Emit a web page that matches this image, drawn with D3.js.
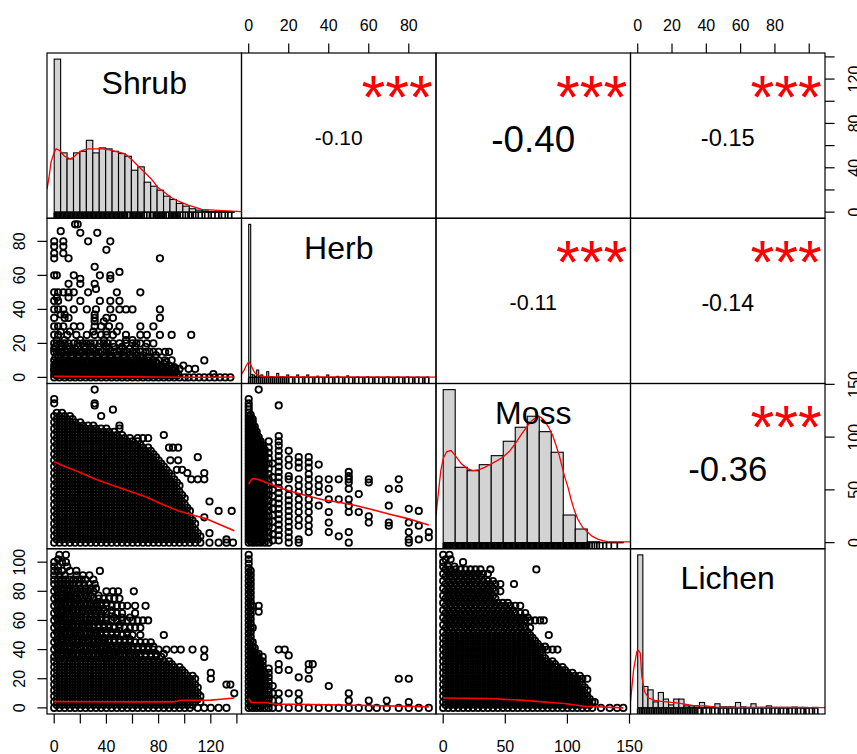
<!DOCTYPE html>
<html><head><meta charset="utf-8">
<script src="https://cdn.jsdelivr.net/npm/d3@7/dist/d3.min.js"></script>
<style>body{margin:0;background:#fff}svg{display:block}</style>
</head><body>
<svg id="chart" width="857" height="754"></svg>
<script>
// ---------------- data ----------------
const varNames = ["Shrub","Herb","Moss","Lichen"];
const varMin = [0,0,0,0];
const varMax = [138,90,145,105];

// correlations (upper panels)
const corrPairs = [[0,1],[0,2],[0,3],[1,2],[1,3],[2,3]];
const corrValues = [-0.10,-0.40,-0.15,-0.11,-0.14,-0.36];
const corrStars = ["***","***","***","***","***","***"];

// axis ticks
const shrubTicks = [0,20,40,60,80,100,120,140];
const shrubTickLabels = [0,40,80,120];
const herbTicks = [0,20,40,60,80];
const herbTickLabels = [0,20,40,60,80];
const mossTicks = [0,50,100,150];
const mossTickLabels = [0,50,100,150];
const lichenTicks = [0,20,40,60,80,100];
const lichenTopLabels = [0,20,40,60,80];
const lichenLeftLabels = [0,20,40,60,80,100];

// histograms (bar heights, relative density) and bin widths
const shrubBinWidth = 5;
const shrubHist = [153.4,59.4,53.4,59.4,61,72,59.4,64.4,63.4,61,58.7,56,42,45.4,30,26,22,16,12.7,8.7,6,3.4,2,1.2,0.6,0.5,0.4,0.3];
const herbBinWidth = 1;
const herbHist = [154,3,2.4,1,7.4,0.6,2.4,1,0.6,5.7,0.3,0.5,0.3,0,4,0.3,0.4,0.3,0,2.4,0,0.3,0,0,2.4,0,0,0.3,0,2.4,0,0,0,0,1.2,0,0,0,0,2.4,0,0,0,0,1,0,0,0,0,1.5,0,0,0,0,0.5,0,0,0,0,0.6,0,0,0,0,0.3,0,0,0,0,0.5,0,0,0,0,0.4,0,0,0,0,0.5,0,0,0,0,0.3,0,0,0,0,0.4];
const mossBinWidth = 10;
const mossHist = [152.9,75.3,71.9,77.9,86.9,101.3,115.3,126.3,110.9,90.3,27.6,13.6,0.9,0.4,0.3];
const lichenBinWidth = 3;
const lichenHist = [153,21.4,18,6,15.4,8.8,3,8.8,8.8,2,2,2.1,5.4,1,1,4.1,1,1,1,5.4,1,0.5,4.1,0.5,0.5,2,0.5,0.5,0.5,0.5,0.8,0.5,0.5,0.3,0.5];

// rug values (distinct observed values)
const shrubRug = [0,1,2,3,4,5,6,7,8,9,10,11,12,13,14,15,16,17,18,19,20,21,22,23,24,25,26,27,28,29,30,31,32,33,34,35,36,37,38,39,40,41,42,43,44,45,46,47,48,49,50,51,52,53,54,55,56,57,59,60,61,62,63,64,65,66,67,68,69,70,72,74,75,77,78,79,80,81,82,83,84,85,86,87,89,90,91,92,93,94,95,96,97,98,100,102,104,105,107,108,110,112,115,117,120,122,125,128,130,133,135,138];
const herbRug = [0,1,2,3,4,5,6,7,8,9,10,11,12,13,14,15,16,17,18,19,20,22,23,25,27,28,30,32,33,35,37,38,40,42,43,45,47,48,50,52,53,55,57,58,60,62,63,65,67,68,70,72,73,75,77,78,80,82,83,85,87,88,90];
const mossRug = [0,1,2,3,4,5,6,7,8,9,10,11,12,13,14,15,16,17,18,19,20,21,22,23,24,25,26,27,28,29,30,31,32,33,34,35,36,37,38,39,40,41,42,43,44,45,46,47,48,49,50,51,52,53,54,55,56,57,58,59,60,61,62,63,64,65,66,67,68,69,70,71,72,73,74,75,76,77,78,79,80,81,82,83,84,85,86,87,88,89,90,91,92,93,94,95,96,97,98,99,100,101,102,103,104,105,106,107,108,109,110,111,112,113,114,115,116,117,118,119,120,121,122,124,126,128,130,133,136,140,145];
const lichenRug = [0,1,2,3,4,5,6,7,8,9,10,11,12,13,14,15,16,17,18,19,20,21,22,23,24,25,26,27,28,29,30,31,32,33,34,35,37,38,40,42,43,45,47,48,50,52,53,55,57,58,60,62,63,65,67,68,70,72,73,75,77,78,80,82,83,85,87,88,90,92,93,95,97,98,100,102,103,105];

// kernel density curves [value, density]
const shrubDensity = [[-5.6,23],[-4,35],[-2.5,50],[0,60],[1.5,63.4],[4,62],[8,56],[12.3,53.4],[15,55],[18.7,59.4],[22,62],[26.5,63.4],[32,63.5],[37.5,63.4],[43,62.5],[47.3,61],[51,60],[55,58.4],[60.2,52.7],[65.4,46],[70.6,39.4],[75.8,32.7],[80.9,24.4],[86.1,19.4],[91.3,14.4],[96.5,11],[104.2,7],[114.7,2.7],[127.6,1.7],[145.8,0.5]];
const herbDensity = [[-3.6,3.4],[-2.5,6.5],[-1.2,12],[0,15.7],[1,13],[2,8.5],[2.9,5],[4.5,2.3],[6.3,1],[9,0.6],[20,0.4],[93.6,0.3]];
const mossDensity = [[-6,27],[-4,50],[-2,72],[0,84],[3,91],[6.5,92],[10,87],[15,79],[20,74],[24.6,72],[30,73],[35,75.5],[39.8,78.6],[45,82],[49.6,85.3],[55,91],[60.6,100],[65,108],[70.4,117],[74,122],[78.7,126.3],[81,125.5],[84.2,122],[88,115],[91.2,107],[94,97],[96.7,87],[99,76],[100.9,67],[104,55],[106.4,43.6],[109,33],[112,23.6],[116,15.5],[120.4,10.3],[124,6.5],[128.7,3.6],[133,2],[137,1],[145,0.8],[156,0.8]];
const lichenDensity = [[-4.2,6.4],[-2.4,38],[-0.5,56.4],[0.5,57.4],[1.5,54.7],[2.4,31.4],[4,16.4],[6.3,9.8],[10,7.5],[14,6.4],[23.8,4.8],[33.5,2.1],[40,2],[45.2,0.8],[60,0.6],[80,0.5],[109.2,0.3]];

// lowess smooth lines [x, y]
const smoothShrubHerb = [[0,0.6],[20,0.5],[40,0.4],[60,0.3],[80,0.2],[100,0.1],[120,0.1],[138,0.2]];
const smoothShrubMoss = [[0,76.7],[8.3,72.2],[18.5,67.2],[31.3,60.2],[44,54.6],[56.8,49.2],[69.6,43.8],[82.3,36.6],[95,30.3],[107.9,25.5],[115.6,23],[138,11.3]];
const smoothShrubLichen = [[0,4.3],[30,4.2],[60,4.1],[91.6,4.1],[96.8,5.2],[120,5.3],[127.7,5.9],[138,6.8]];
const smoothHerbMoss = [[0,55.5],[1,59],[2,60.9],[5,59.7],[12,54.7],[20,49.2],[29,44.5],[37,40.7],[45,38.2],[54,35],[62,31.2],[70,27.1],[79,23],[90,16.7]];
const smoothHerbLichen = [[0,6.4],[1.2,3.7],[8.7,3.7],[13.7,2.5],[22,2.5],[55,1.8],[90,0.7]];
const smoothMossLichen = [[0,6.8],[36,6.4],[62.6,5.3],[80,4.1],[97.5,3],[113.6,1.1],[145,0]];

// scatter points. Row form: [yValue, [xValues]]; column form: [xValue, [yValues]]
const ptsShrubHerb = [ // [Herb, [Shrub...]]
[90,[16,18]],[86,[5]],[85,[20,33]],[80,[0,7,26,43]],[77,[0,7]],[75,[40]],[73,[0,7]],[70,[0,11,81]],[65,[31]],[62,[50]],
[60,[0,2,15,35,43]],[58,[20,43]],[55,[11,20,31]],[52,[32]],[50,[0,3,7,11,15,26,48,66]],[47,[2,11]],[45,[0,3,20,35,43,50]],
[40,[0,3,7,15,25,32,43,50,55,60,81]],[37,[5,8,31]],[35,[0,8,11,31,40,45,81]],[33,[31,38]],[30,[0,3,7,15,20,31,36,42,50,66,76]],
[27,[5,12,30,40,48]],[25,[0,3,10,17,25,31,36,40,45,55,66,71,81,90,105]],[22,[2,8,20,38,55,60]],
[20,[0,2,5,8,11,15,18,22,25,28,31,35,38,41,45,50,55,60,63,66,71,76]],
[18,[1,6,12,18,23,28,34,40,46,52,62,70]],
[17,[0,4,10,16,24,30,42,50,58]],
[15,[0,2,5,8,10,13,16,19,22,25,28,31,34,37,40,43,46,50,53,56,60,63,66,70,73,76,80,85,88]],
[13,[3,8,13,18,23,28,33,38,43,48,53,58,63,68,78]],
[12,[1,5,9,14,19,24,29,34,39,44,49,54,60,66,72]],
[10,[0,3,6,9,12,15,18,21,24,27,30,33,36,39,42,45,48,51,54,57,60,63,66,69,72,76,80,85,90,115]],
[9,[2,6,10,14,18,22,26,30,34,38,42,46,50,54,58,62,66,70,74,78,86]],
[8,[1,5,9,13,17,21,25,29,33,37,41,45,49,53,57,61,65,69,74,79,84]],
[7,[0,4,8,12,16,20,24,28,32,36,40,44,48,52,56,60,64,68,72,76,82,88,99]],
[6,[2,6,10,14,18,22,26,30,34,38,42,46,50,54,58,62,66,70,74,78,82,86,92]],
[5,[0,3,6,9,12,15,18,21,24,27,30,33,36,39,42,45,48,51,54,57,60,63,66,69,72,75,78,81,84,87,90,93,96,103,108]],
[4,[0,4,8,12,16,20,24,28,32,36,40,44,48,52,56,60,64,68,72,76,80,84,88,92]],
[3,[1,5,9,13,17,21,25,29,33,37,41,45,49,53,57,61,65,69,73,77,81,85,89,93]],
[2,[0,3,7,11,15,19,23,27,31,35,39,43,47,51,55,59,63,67,71,75,79,83,87,91,95,122]],
[1,[2,6,10,14,18,22,26,30,34,38,42,46,50,54,58,62,66,70,74,78,82,86,90,94]],
[0,[0,4,8,12,16,20,24,28,32,36,40,44,48,52,56,60,64,68,72,76,80,84,88,92,96,100,103,107,111,115,119,123,127,131,135]]
];
const ptsShrubMoss = [ // [Moss, [Shrub...]]
[145,[31]],[136,[0]],[132,[0,31]],[130,[31]],[126,[45]],
[123,[2,6]],[120,[0,4,8,12,36]],[117,[2,6,10,14]],[114,[0,4,8,12,16,20]],
[111,[2,6,10,14,18,22,26,30,50]],
[108,[0,4,8,12,16,20,24,28,32,36,40,50]],
[105,[2,6,10,14,18,22,26,30,34,38,42,46]],
[102,[0,4,8,12,16,20,24,28,32,36,40,44,48,52,84]],
[99,[2,6,10,14,18,22,26,30,34,38,42,46,50,54,58,64,68,72]],
[96,[0,4,8,12,16,20,24,28,32,36,40,44,48,52,56,60,64]],
[93,[2,6,10,14,18,22,26,30,34,38,42,46,50,54,58,62,66]],
[90,[0,4,8,12,16,20,24,28,32,36,40,44,48,52,56,60,64,68,72,88,91,95]],
[87,[2,6,10,14,18,22,26,30,34,38,42,46,50,54,58,62,66,70,74]],
[84,[0,4,8,12,16,20,24,28,32,36,40,44,48,52,56,60,64,68,72,76]],
[81,[2,6,10,14,18,22,26,30,34,38,42,46,50,54,58,62,66,70,74,78,110]],
[78,[0,4,8,12,16,20,24,28,32,36,40,44,48,52,56,60,64,68,72,76,80,89,95]],
[75,[2,6,10,14,18,22,26,30,34,38,42,46,50,54,58,62,66,70,74,78,82]],
[72,[0,4,8,12,16,20,24,28,32,36,40,44,48,52,56,60,64,68,72,76,80,84]],
[69,[2,6,10,14,18,22,26,30,34,38,42,46,50,54,58,62,66,70,74,78,82,86,94,98]],
[66,[0,4,8,12,16,20,24,28,32,36,40,44,48,52,56,60,64,68,72,76,80,84,88,102,115]],
[63,[2,6,10,14,18,22,26,30,34,38,42,46,50,54,58,62,66,70,74,78,82,86,90]],
[60,[0,4,8,12,16,20,24,28,32,36,40,44,48,52,56,60,64,68,72,76,80,84,88,92,105,110,115]],
[57,[2,6,10,14,18,22,26,30,34,38,42,46,50,54,58,62,66,70,74,78,82,86,90,94]],
[54,[0,4,8,12,16,20,24,28,32,36,40,44,48,52,56,60,64,68,72,76,80,84,88,92,96]],
[51,[2,6,10,14,18,22,26,30,34,38,42,46,50,54,58,62,66,70,74,78,82,86,90,94]],
[48,[0,4,8,12,16,20,24,28,32,36,40,44,48,52,56,60,64,68,72,76,80,84,88,92,96]],
[45,[2,6,10,14,18,22,26,30,34,38,42,46,50,54,58,62,66,70,74,78,82,86,90,94,98]],
[42,[0,4,8,12,16,20,24,28,32,36,40,44,48,52,56,60,64,68,72,76,80,84,88,92,96,100]],
[39,[2,6,10,14,18,22,26,30,34,38,42,46,50,54,58,62,66,70,74,78,82,86,90,94,98,119]],
[36,[0,4,8,12,16,20,24,28,32,36,40,44,48,52,56,60,64,68,72,76,80,84,88,92,96,100]],
[33,[2,6,10,14,18,22,26,30,34,38,42,46,50,54,58,62,66,70,74,78,82,86,90,94,98,102]],
[30,[0,4,8,12,16,20,24,28,32,36,40,44,48,52,56,60,64,68,72,76,80,84,88,92,96,100,104,126,136]],
[27,[2,6,10,14,18,22,26,30,34,38,42,46,50,54,58,62,66,70,74,78,82,86,90,94,98,102]],
[24,[0,4,8,12,16,20,24,28,32,36,40,44,48,52,56,60,64,68,72,76,80,84,88,92,96,100,104,115]],
[21,[2,6,10,14,18,22,26,30,34,38,42,46,50,54,58,62,66,70,74,78,82,86,90,94,98,102,106]],
[18,[0,4,8,12,16,20,24,28,32,36,40,44,48,52,56,60,64,68,72,76,80,84,88,92,96,100,104,108]],
[15,[2,6,10,14,18,22,26,30,34,38,42,46,50,54,58,62,66,70,74,78,82,86,90,94,98,102,106]],
[12,[0,4,8,12,16,20,24,28,32,36,40,44,48,52,56,60,64,68,72,76,80,84,88,92,96,100,104,108]],
[9,[2,6,10,14,18,22,26,30,34,38,42,46,50,54,58,62,66,70,74,78,82,86,90,94,98,102,106,110,119]],
[6,[0,4,8,12,16,20,24,28,32,36,40,44,48,52,56,60,64,68,72,76,80,84,88,92,96,100,104,108,112]],
[3,[2,6,10,14,18,22,26,30,34,38,42,46,50,54,58,62,66,70,74,78,82,86,90,94,98,102,106,110,132]],
[0,[0,4,8,12,16,20,24,28,32,36,40,44,48,52,56,60,64,68,72,76,80,84,88,92,96,100,104,108,112,119,126,132,137]]
];
const ptsShrubLichen = [ // [Lichen, [Shrub...]]
[105,[4,9]],[102,[3]],[100,[0,6,9]],[97,[0,3,10]],[94,[0,3,6,12,17,35]],[91,[0,4,8,17,22,27]],
[88,[0,3,6,9,12,15,18,21,24,30]],[85,[0,3,6,9,12,15,19,23,27,31]],[82,[2,5,8,12,16,20,24,28,32]],
[80,[0,3,6,10,14,18,22,26,30,40,45,49,61]],[77,[2,6,9,12,16,20,24,28,34]],[75,[0,3,6,9,12,15,18,22,26,30,34,38,42,46,50]],
[72,[2,5,8,12,16,20,24,28,32,36,40]],[70,[0,3,6,9,12,15,18,21,24,27,30,33,36,40,44,48,52,56,62,70]],
[67,[2,6,10,14,18,22,26,30,34,38,44]],[65,[0,3,6,9,12,15,18,21,24,28,32,36,40,44,48,52,62]],
[62,[2,5,8,12,16,20,24,28,32,36,40,46,52,58]],[60,[0,3,6,9,12,15,18,21,24,27,30,33,36,40,44,48,52,56,60,64,68,72]],
[57,[2,6,10,14,18,22,26,30,34,38,42,50]],[55,[0,3,6,9,12,15,18,21,24,27,30,34,38,42,46,50,54,58,62,66]],
[52,[2,5,8,12,16,20,24,28,32,36,40,44,48,56]],[50,[0,3,6,9,12,15,18,21,24,27,30,33,36,40,44,48,52,56,60,66,84]],
[47,[2,6,10,14,18,22,26,30,34,38,42,46,50,54,58]],[45,[0,3,6,9,12,15,18,21,24,27,30,33,36,39,42,46,50,54,58,62,66,70,74]],
[42,[2,5,8,12,16,20,24,28,32,36,40,44,48,52,56,60,64,68,72,76]],
[40,[0,3,6,9,12,15,18,21,24,27,30,33,36,39,42,45,48,51,54,57,60,64,68,72,76,80,86,92,97,106,115]],
[37,[2,6,10,14,18,22,26,30,34,38,42,46,50,54,58,62,66,70,74,78,84]],
[35,[0,3,6,9,12,15,18,21,24,27,30,33,36,39,42,45,48,51,54,57,60,63,66,70,74,78,82,115]],
[32,[0,4,8,12,16,20,24,28,32,36,40,44,48,52,56,60,64,68,72,76,80,84,88]],
[30,[2,6,10,14,18,22,26,30,34,38,42,46,50,54,58,62,66,70,74,78,82,86,90]],
[28,[0,4,8,12,16,20,24,28,32,36,40,44,48,52,56,60,64,68,72,76,80,84,88,92,96]],
[26,[2,6,10,14,18,22,26,30,34,38,42,46,50,54,58,62,66,70,74,78,82,86,90,94,98]],
[24,[0,4,8,12,16,20,24,28,32,36,40,44,48,52,56,60,64,68,72,76,80,84,88,92,96,100,120]],
[22,[2,6,10,14,18,22,26,30,34,38,42,46,50,54,58,62,66,70,74,78,82,86,90,94,98,102,106]],
[20,[0,4,8,12,16,20,24,28,32,36,40,44,48,52,56,60,64,68,72,76,80,84,88,92,96,100,104,108,120]],
[18,[2,6,10,14,18,22,26,30,34,38,42,46,50,54,58,62,66,70,74,78,82,86,90,94,98,102,106]],
[16,[0,4,8,12,16,20,24,28,32,36,40,44,48,52,56,60,64,68,72,76,80,84,88,92,96,100,104,108,132,135]],
[14,[2,6,10,14,18,22,26,30,34,38,42,46,50,54,58,62,66,70,74,78,82,86,90,94,98,102,106,110]],
[12,[0,4,8,12,16,20,24,28,32,36,40,44,48,52,56,60,64,68,72,76,80,84,88,92,96,100,104,108]],
[10,[2,6,10,14,18,22,26,30,34,38,42,46,50,54,58,62,66,70,74,78,82,86,90,94,98,102,106,110,138]],
[8,[0,4,8,12,16,20,24,28,32,36,40,44,48,52,56,60,64,68,72,76,80,84,88,92,96,100,104,108,112]],
[6,[2,6,10,14,18,22,26,30,34,38,42,46,50,54,58,62,66,70,74,78,82,86,90,94,98,102,106,110]],
[4,[0,4,8,12,16,20,24,28,32,36,40,44,48,52,56,60,64,68,72,76,80,84,88,92,96,100,104,108,112]],
[2,[2,6,10,14,18,22,26,30,34,38,42,46,50,54,58,62,66,70,74,78,82,86,90,94,98,102,106]],
[0,[0,4,8,12,16,20,24,28,32,36,40,44,48,52,56,60,64,68,72,76,80,84,88,92,96,100,104,110,115,120,126,132]]
];
const ptsHerbMoss = [ // [Herb, [Moss...]]
[0,[0,3,6,9,12,15,18,21,24,27,30,33,36,39,42,45,48,51,54,57,60,63,66,69,72,75,78,81,84,87,90,93,96,99,102,105,108,111,114,117,120,123,126,129,132,136]],
[1,[1,4,7,10,13,16,19,22,25,28,31,34,37,40,43,46,49,52,55,58,61,64,67,70,73,76,79,82,85,88,91,94,97,100,103,106,109,112,115,118,121]],
[2,[0,3,6,9,12,15,18,21,24,27,30,33,36,39,42,45,48,51,54,57,60,63,66,69,72,75,78,81,84,87,90,93,96,99,102,105,108,111,114,117]],
[3,[2,5,8,11,14,17,20,23,26,29,32,35,38,41,44,47,50,53,56,59,62,65,68,71,74,77,80,83,86,89,92,95,98,101,104,107,110]],
[4,[0,3,6,9,12,15,18,21,24,27,30,33,36,39,42,45,48,51,54,57,60,63,66,69,72,75,78,81,84,87,90,93,96,99,102,105]],
[5,[1,4,7,10,13,16,19,22,25,28,31,34,37,40,43,46,49,52,55,58,61,64,67,70,73,76,79,82,85,88,91,94,97,100,145]],
[6,[0,3,6,9,12,15,18,21,24,27,30,33,36,39,42,45,48,51,54,57,60,63,66,69,72,75,78,81,84,87,90,93,96]],
[7,[2,5,8,11,14,17,20,23,26,29,32,35,38,41,44,47,50,53,56,59,62,65,68,71,74,77,80,83,86,89,92]],
[8,[0,4,8,12,16,20,24,28,32,36,40,44,48,52,56,60,64,68,72,76,80,84,88]],
[10,[0,5,10,15,20,25,30,35,40,45,50,55,60,65,70,75,80,85,90,96]],
[12,[2,8,14,20,26,32,38,44,50,56,62,75]],
[15,[2,7,12,17,22,27,32,37,42,47,52,57,62,67,72,77,82,87,92,96,101,130]],
[20,[0,5,10,15,20,25,30,35,40,45,51,60,63,73,79,87]],
[25,[0,3,16,22,29,35,41,48,54,60,71,76,81]],
[30,[10,16,22,29,35,41,48,54,60,65,71,76,81]],
[35,[35,48,54,60,74]],[40,[10,19,29,41,51,60]],[45,[6,41,60]],[50,[0,10,29,35,41,51,57,60,63,67]],
[55,[29,46]],[60,[19,25,57,60]],[70,[16,19,35,51]],[75,[51,60]],[80,[0,3,10,19,32]],[85,[3,16,30]],[90,[5,10]]
];
const ptsHerbLichen = [ // [Herb, [Lichen...]]
[0,[0,3,6,9,12,15,18,21,24,27,30,33,36,39,42,45,48,51,54,57,60,63,66,69,72,75,78,81,84,87,90,93,96,99,102,105]],
[1,[1,4,7,10,13,16,19,22,25,28,31,34,37,40,43,46,49,52,55,58,61,64,67,70,73,76,79,82,85,88,91,94]],
[2,[0,3,6,9,12,15,18,21,24,27,30,33,36,39,42,45,55,70]],
[3,[2,5,8,11,14,17,20,23,26,29,32,35,38,41]],
[4,[0,3,6,9,12,15,18,21,24,27,30,33,36]],
[5,[1,4,7,10,13,16,19,22,25,28,31,34,37,66,70]],
[6,[0,3,6,9,12,15,18,21,24,27,30]],
[7,[2,5,8,11,14,17,20,23,26,29,32,35]],
[8,[0,3,6,9,12,15,18,21,24]],
[10,[0,3,6,9,12,15,18,21,24,27]],
[12,[0,5,10,15]],[15,[0,5,10,26,30,40]],[18,[40]],[20,[0,10,26,36]],[25,[0,5,10,21]],[30,[0,20,26,30]],[32,[30]],
[35,[0]],[40,[0,15]],[45,[0]],[50,[0,5,10]],[55,[0]],[60,[0,5]],[64,[0]],[69,[0,5]],[75,[0,20]],[80,[0,4,20]],[85,[0]],[90,[0]]
];
const ptsMossLichen = [ // [Lichen, [Moss...]]
[105,[0,5]],[102,[2,6]],[100,[0,16]],[97,[0,4,9]],
[95,[2,6,10,14,18,22,26,30,38,75]],
[92,[0,4,8,12,16,20,24,28,32,36]],
[90,[2,6,10,14,18,22,26,30]],
[87,[0,4,8,12,16,20,24,28,32,36,40]],
[85,[2,6,10,14,18,22,26,30,34,38,42,46,57]],
[82,[0,4,8,12,16,20,24,28,32,36,40]],
[80,[2,6,10,14,18,22,26,30,34,38,42,46]],
[77,[0,4,8,12,16,20,24,28,32,36,40]],
[75,[2,6,10,14,18,22,26,30,34,38,42]],
[72,[0,4,8,12,16,20,24,28,32,36,40,44,48,52]],
[70,[2,6,10,14,18,22,26,30,34,38,42,46,50,54,58,62]],
[67,[0,4,8,12,16,20,24,28,32,36,40,44,48,52,56]],
[65,[2,6,10,14,18,22,26,30,34,38,42,46,50,54,58,62,66]],
[62,[0,4,8,12,16,20,24,28,32,36,40,44,48,52,56,60,64,68]],
[60,[2,6,10,14,18,22,26,30,34,38,42,46,50,54,58,62,66,70,74,78,81]],
[57,[0,4,8,12,16,20,24,28,32,36,40,44,48,52,56,60,64]],
[55,[2,6,10,14,18,22,26,30,34,38,42,46,50,54,58,62,66,70]],
[52,[0,4,8,12,16,20,24,28,32,36,40,44,48,52,56,60,64,68]],
[50,[2,6,10,14,18,22,26,30,34,38,42,46,50,54,58,62,66,70,85]],
[48,[0,4,8,12,16,20,24,28,32,36,40,44,48,52,56,60,64,68,72]],
[46,[2,6,10,14,18,22,26,30,34,38,42,46,50,54,58,62,66,70,74]],
[44,[0,4,8,12,16,20,24,28,32,36,40,44,48,52,56,60,64,68,72,76]],
[42,[2,6,10,14,18,22,26,30,34,38,42,46,50,54,58,62,66,70,74,78,82]],
[40,[0,4,8,12,16,20,24,28,32,36,40,44,48,52,56,60,64,68,72,76,80,84,88,92]],
[38,[2,6,10,14,18,22,26,30,34,38,42,46,50,54,58,62,66,70,74,78]],
[36,[0,4,8,12,16,20,24,28,32,36,40,44,48,52,56,60,64,68,72,76,80]],
[34,[2,6,10,14,18,22,26,30,34,38,42,46,50,54,58,62,66,70,74,78,82]],
[32,[0,4,8,12,16,20,24,28,32,36,40,44,48,52,56,60,64,68,72,76,80,84,88]],
[30,[2,6,10,14,18,22,26,30,34,38,42,46,50,54,58,62,66,70,74,78,82,86,90]],
[28,[0,4,8,12,16,20,24,28,32,36,40,44,48,52,56,60,64,68,72,76,80,84,88,92,96]],
[26,[2,6,10,14,18,22,26,30,34,38,42,46,50,54,58,62,66,70,74,78,82,86,90,94,98]],
[24,[0,4,8,12,16,20,24,28,32,36,40,44,48,52,56,60,64,68,72,76,80,84,88,92,96,100,104]],
[22,[2,6,10,14,18,22,26,30,34,38,42,46,50,54,58,62,66,70,74,78,82,86,90,94,98,102,106,110]],
[20,[0,4,8,12,16,20,24,28,32,36,40,44,48,52,56,60,64,68,72,76,80,84,88,92,96,100,104,108,112,116]],
[18,[2,6,10,14,18,22,26,30,34,38,42,46,50,54,58,62,66,70,74,78,82,86,90,94,98,102,106,110]],
[16,[0,4,8,12,16,20,24,28,32,36,40,44,48,52,56,60,64,68,72,76,80,84,88,92,96,100,104,108,112]],
[14,[2,6,10,14,18,22,26,30,34,38,42,46,50,54,58,62,66,70,74,78,82,86,90,94,98,102,106,110,114]],
[12,[0,4,8,12,16,20,24,28,32,36,40,44,48,52,56,60,64,68,72,76,80,84,88,92,96,100,104,108,112,116]],
[10,[2,6,10,14,18,22,26,30,34,38,42,46,50,54,58,62,66,70,74,78,82,86,90,94,98,102,106,110,114]],
[8,[0,4,8,12,16,20,24,28,32,36,40,44,48,52,56,60,64,68,72,76,80,84,88,92,96,100,104,108,112,116]],
[6,[2,6,10,14,18,22,26,30,34,38,42,46,50,54,58,62,66,70,74,78,82,86,90,94,98,102,106,110,114,118]],
[4,[0,4,8,12,16,20,24,28,32,36,40,44,48,52,56,60,64,68,72,76,80,84,88,92,96,100,104,108,112,116,120,122]],
[2,[2,6,10,14,18,22,26,30,34,38,42,46,50,54,58,62,66,70,74,78,82,86,90,94,98,102,106,110,114,118]],
[0,[0,4,8,12,16,20,24,28,32,36,40,44,48,52,56,60,64,68,72,76,80,84,88,92,96,100,104,108,112,116,120,127,134,140,145]]
];

// ---------------- layout / drawing ----------------
const FONT = "'Liberation Sans', Arial, Helvetica, sans-serif";
const L0 = 47, R0 = 825, T0 = 53, B0 = 714, N = 4;
const PW = (R0 - L0) / N, PH = (B0 - T0) / N;
const svg = d3.select("#chart");
svg.append("rect").attr("width",857).attr("height",754).attr("fill","#fff");

const colL = j => L0 + j*PW, colR = j => L0 + (j+1)*PW;
const rowT = i => T0 + i*PH, rowB = i => T0 + (i+1)*PH;

function ext(lo, hi){ const r = hi - lo; return [lo - 0.04*r, hi + 0.04*r]; }
const xScales = varNames.map((v,k) => d3.scaleLinear().domain(ext(varMin[k], varMax[k])).range([colL(k), colR(k)]));
const yScales = varNames.map((v,k) => d3.scaleLinear().domain(ext(varMin[k], varMax[k])).range([rowB(k), rowT(k)]));

const defs = svg.append("defs");
for (let i=0;i<N;i++) for (let j=0;j<N;j++){
  defs.append("clipPath").attr("id",`clip${i}${j}`).append("rect")
    .attr("x",colL(j)).attr("y",rowT(i)).attr("width",PW).attr("height",PH);
}

function flatten(arr, rowForm){
  const out = [];
  arr.forEach(([k, vals]) => vals.forEach(v => out.push(rowForm ? [v, k] : [k, v])));
  return out;
}
const lowerPanels = [
  {xv:0, yv:1, pts: flatten(ptsShrubHerb, true),   line: smoothShrubHerb},
  {xv:0, yv:2, pts: flatten(ptsShrubMoss, true),   line: smoothShrubMoss},
  {xv:0, yv:3, pts: flatten(ptsShrubLichen, true), line: smoothShrubLichen},
  {xv:1, yv:2, pts: flatten(ptsHerbMoss, false),   line: smoothHerbMoss},
  {xv:1, yv:3, pts: flatten(ptsHerbLichen, false), line: smoothHerbLichen},
  {xv:2, yv:3, pts: flatten(ptsMossLichen, true),  line: smoothMossLichen}
];

// lower panels: points + smooth
lowerPanels.forEach(p => {
  const xs = xScales[p.xv], ys = yScales[p.yv];
  const g = svg.append("g").attr("clip-path",`url(#clip${p.yv}${p.xv})`);
  g.selectAll("circle").data(p.pts).join("circle")
    .attr("cx", d => xs(d[0])).attr("cy", d => ys(d[1])).attr("r", 3.2)
    .attr("fill","none").attr("stroke","#000").attr("stroke-width",1.8);
  g.append("path").datum(p.line)
    .attr("d", d3.line().x(d => xs(d[0])).y(d => ys(d[1])))
    .attr("fill","none").attr("stroke","#ff0000").attr("stroke-width",1.6);
});

// upper panels: correlation text and significance stars
const baseCex = 0.8 * PW / 2.279;
const starSize = 61;
corrPairs.forEach(([i,j], k) => {
  const r = corrValues[k];
  const fs = baseCex * (Math.abs(r) + 0.3) / 1.3;
  const cx = colL(j) + PW/2, cy = rowT(i) + PH/2;
  svg.append("text").attr("x",cx).attr("y",cy + 0.433*fs)
    .attr("text-anchor","middle").attr("font-family",FONT).attr("font-size",fs)
    .attr("fill","#000").text(r.toFixed(2));
  svg.append("text").attr("x",colL(j) + 0.8*PW).attr("y",rowT(i) + 64.5)
    .attr("text-anchor","middle").attr("font-family",FONT).attr("font-size",starSize)
    .attr("fill","#ff0000").text(corrStars[k]);
});

// diagonal panels
const hists = [
  {bins: shrubHist, w: shrubBinWidth, dens: shrubDensity, rug: shrubRug},
  {bins: herbHist, w: herbBinWidth, dens: herbDensity, rug: herbRug},
  {bins: mossHist, w: mossBinWidth, dens: mossDensity, rug: mossRug},
  {bins: lichenHist, w: lichenBinWidth, dens: lichenDensity, rug: lichenRug}
];
hists.forEach((h, k) => {
  const b0 = 0, b1 = h.bins.length * h.w;
  const hx = d3.scaleLinear().domain(ext(b0, b1)).range([colL(k), colR(k)]);
  const M = d3.max(h.bins);
  const hy = d3.scaleLinear().domain(ext(0, M)).range([rowB(k), rowT(k)]);
  const g = svg.append("g").attr("clip-path",`url(#clip${k}${k})`);
  g.selectAll("rect.bar").data(h.bins.map((v,i)=>({v, i})).filter(d => d.v > 0)).join("rect")
    .attr("class","bar")
    .attr("x", d => hx(b0 + d.i*h.w)).attr("width", d => hx(b0 + (d.i+1)*h.w) - hx(b0 + d.i*h.w))
    .attr("y", d => hy(d.v)).attr("height", d => hy(0) - hy(d.v))
    .attr("fill","#d3d3d3").attr("stroke","#000").attr("stroke-width",1.1);
  g.append("line").attr("x1",hx(b0)).attr("x2",hx(b1)).attr("y1",hy(0)).attr("y2",hy(0))
    .attr("stroke","#000").attr("stroke-width",1.1);
  g.append("path").datum(h.dens)
    .attr("d", d3.line().x(d => hx(d[0])).y(d => hy(d[1])))
    .attr("fill","none").attr("stroke","#ff0000").attr("stroke-width",1.3);
  g.selectAll("line.rug").data(h.rug).join("line").attr("class","rug")
    .attr("x1", d => hx(d)).attr("x2", d => hx(d))
    .attr("y1", rowB(k)).attr("y2", rowB(k) - 0.03*PH - 0.8)
    .attr("stroke","#000").attr("stroke-width",1.7);
  svg.append("text").attr("x", colL(k) + PW/2).attr("y", rowT(k) + 40.5)
    .attr("text-anchor","middle").attr("font-family",FONT).attr("font-size",32)
    .attr("fill","#000").text(varNames[k]);
});

// panel boxes
for (let i=0;i<N;i++) for (let j=0;j<N;j++){
  svg.append("rect").attr("x",colL(j)).attr("y",rowT(i)).attr("width",PW).attr("height",PH)
    .attr("fill","none").attr("stroke","#000").attr("stroke-width",1.2);
}

// axes
const TICK = 9.6, TFS = 16;
function topAxis(k, ticks, labels){
  const s = xScales[k];
  const g = svg.append("g");
  g.selectAll("line.t").data(ticks).join("line").attr("class","t")
    .attr("x1",d=>s(d)).attr("x2",d=>s(d)).attr("y1",T0).attr("y2",T0-TICK).attr("stroke","#000").attr("stroke-width",1.2);
  g.selectAll("text").data(labels).join("text").attr("x",d=>s(d)).attr("y",30.7)
    .attr("text-anchor","middle").attr("font-family",FONT).attr("font-size",TFS).text(d=>d);
}
function bottomAxis(k, ticks, labels){
  const s = xScales[k];
  const g = svg.append("g");
  g.selectAll("line.t").data(ticks).join("line").attr("class","t")
    .attr("x1",d=>s(d)).attr("x2",d=>s(d)).attr("y1",B0).attr("y2",B0+TICK).attr("stroke","#000").attr("stroke-width",1.2);
  g.selectAll("text").data(labels).join("text").attr("x",d=>s(d)).attr("y",751.5)
    .attr("text-anchor","middle").attr("font-family",FONT).attr("font-size",TFS).text(d=>d);
}
function leftAxis(k, ticks, labels){
  const s = yScales[k];
  const g = svg.append("g");
  g.selectAll("line.t").data(ticks).join("line").attr("class","t")
    .attr("y1",d=>s(d)).attr("y2",d=>s(d)).attr("x1",L0).attr("x2",L0-TICK).attr("stroke","#000").attr("stroke-width",1.2);
  g.selectAll("text").data(labels).join("text")
    .attr("transform",d=>`translate(25,${s(d)}) rotate(-90)`)
    .attr("text-anchor","middle").attr("font-family",FONT).attr("font-size",TFS).text(d=>d);
}
function rightAxis(k, ticks, labels){
  const s = yScales[k];
  const g = svg.append("g");
  g.selectAll("line.t").data(ticks).join("line").attr("class","t")
    .attr("y1",d=>s(d)).attr("y2",d=>s(d)).attr("x1",R0).attr("x2",R0+TICK).attr("stroke","#000").attr("stroke-width",1.2);
  g.selectAll("text").data(labels).join("text")
    .attr("transform",d=>`translate(859.8,${s(d)}) rotate(-90)`)
    .attr("text-anchor","middle").attr("font-family",FONT).attr("font-size",TFS).text(d=>d);
}
topAxis(1, herbTicks, herbTickLabels);
topAxis(3, lichenTicks, lichenTopLabels);
bottomAxis(0, shrubTicks, shrubTickLabels);
bottomAxis(2, mossTicks, mossTickLabels);
leftAxis(1, herbTicks, herbTickLabels);
leftAxis(3, lichenTicks, lichenLeftLabels);
rightAxis(0, shrubTicks, shrubTickLabels);
rightAxis(2, mossTicks, mossTickLabels);
</script>
</body></html>
